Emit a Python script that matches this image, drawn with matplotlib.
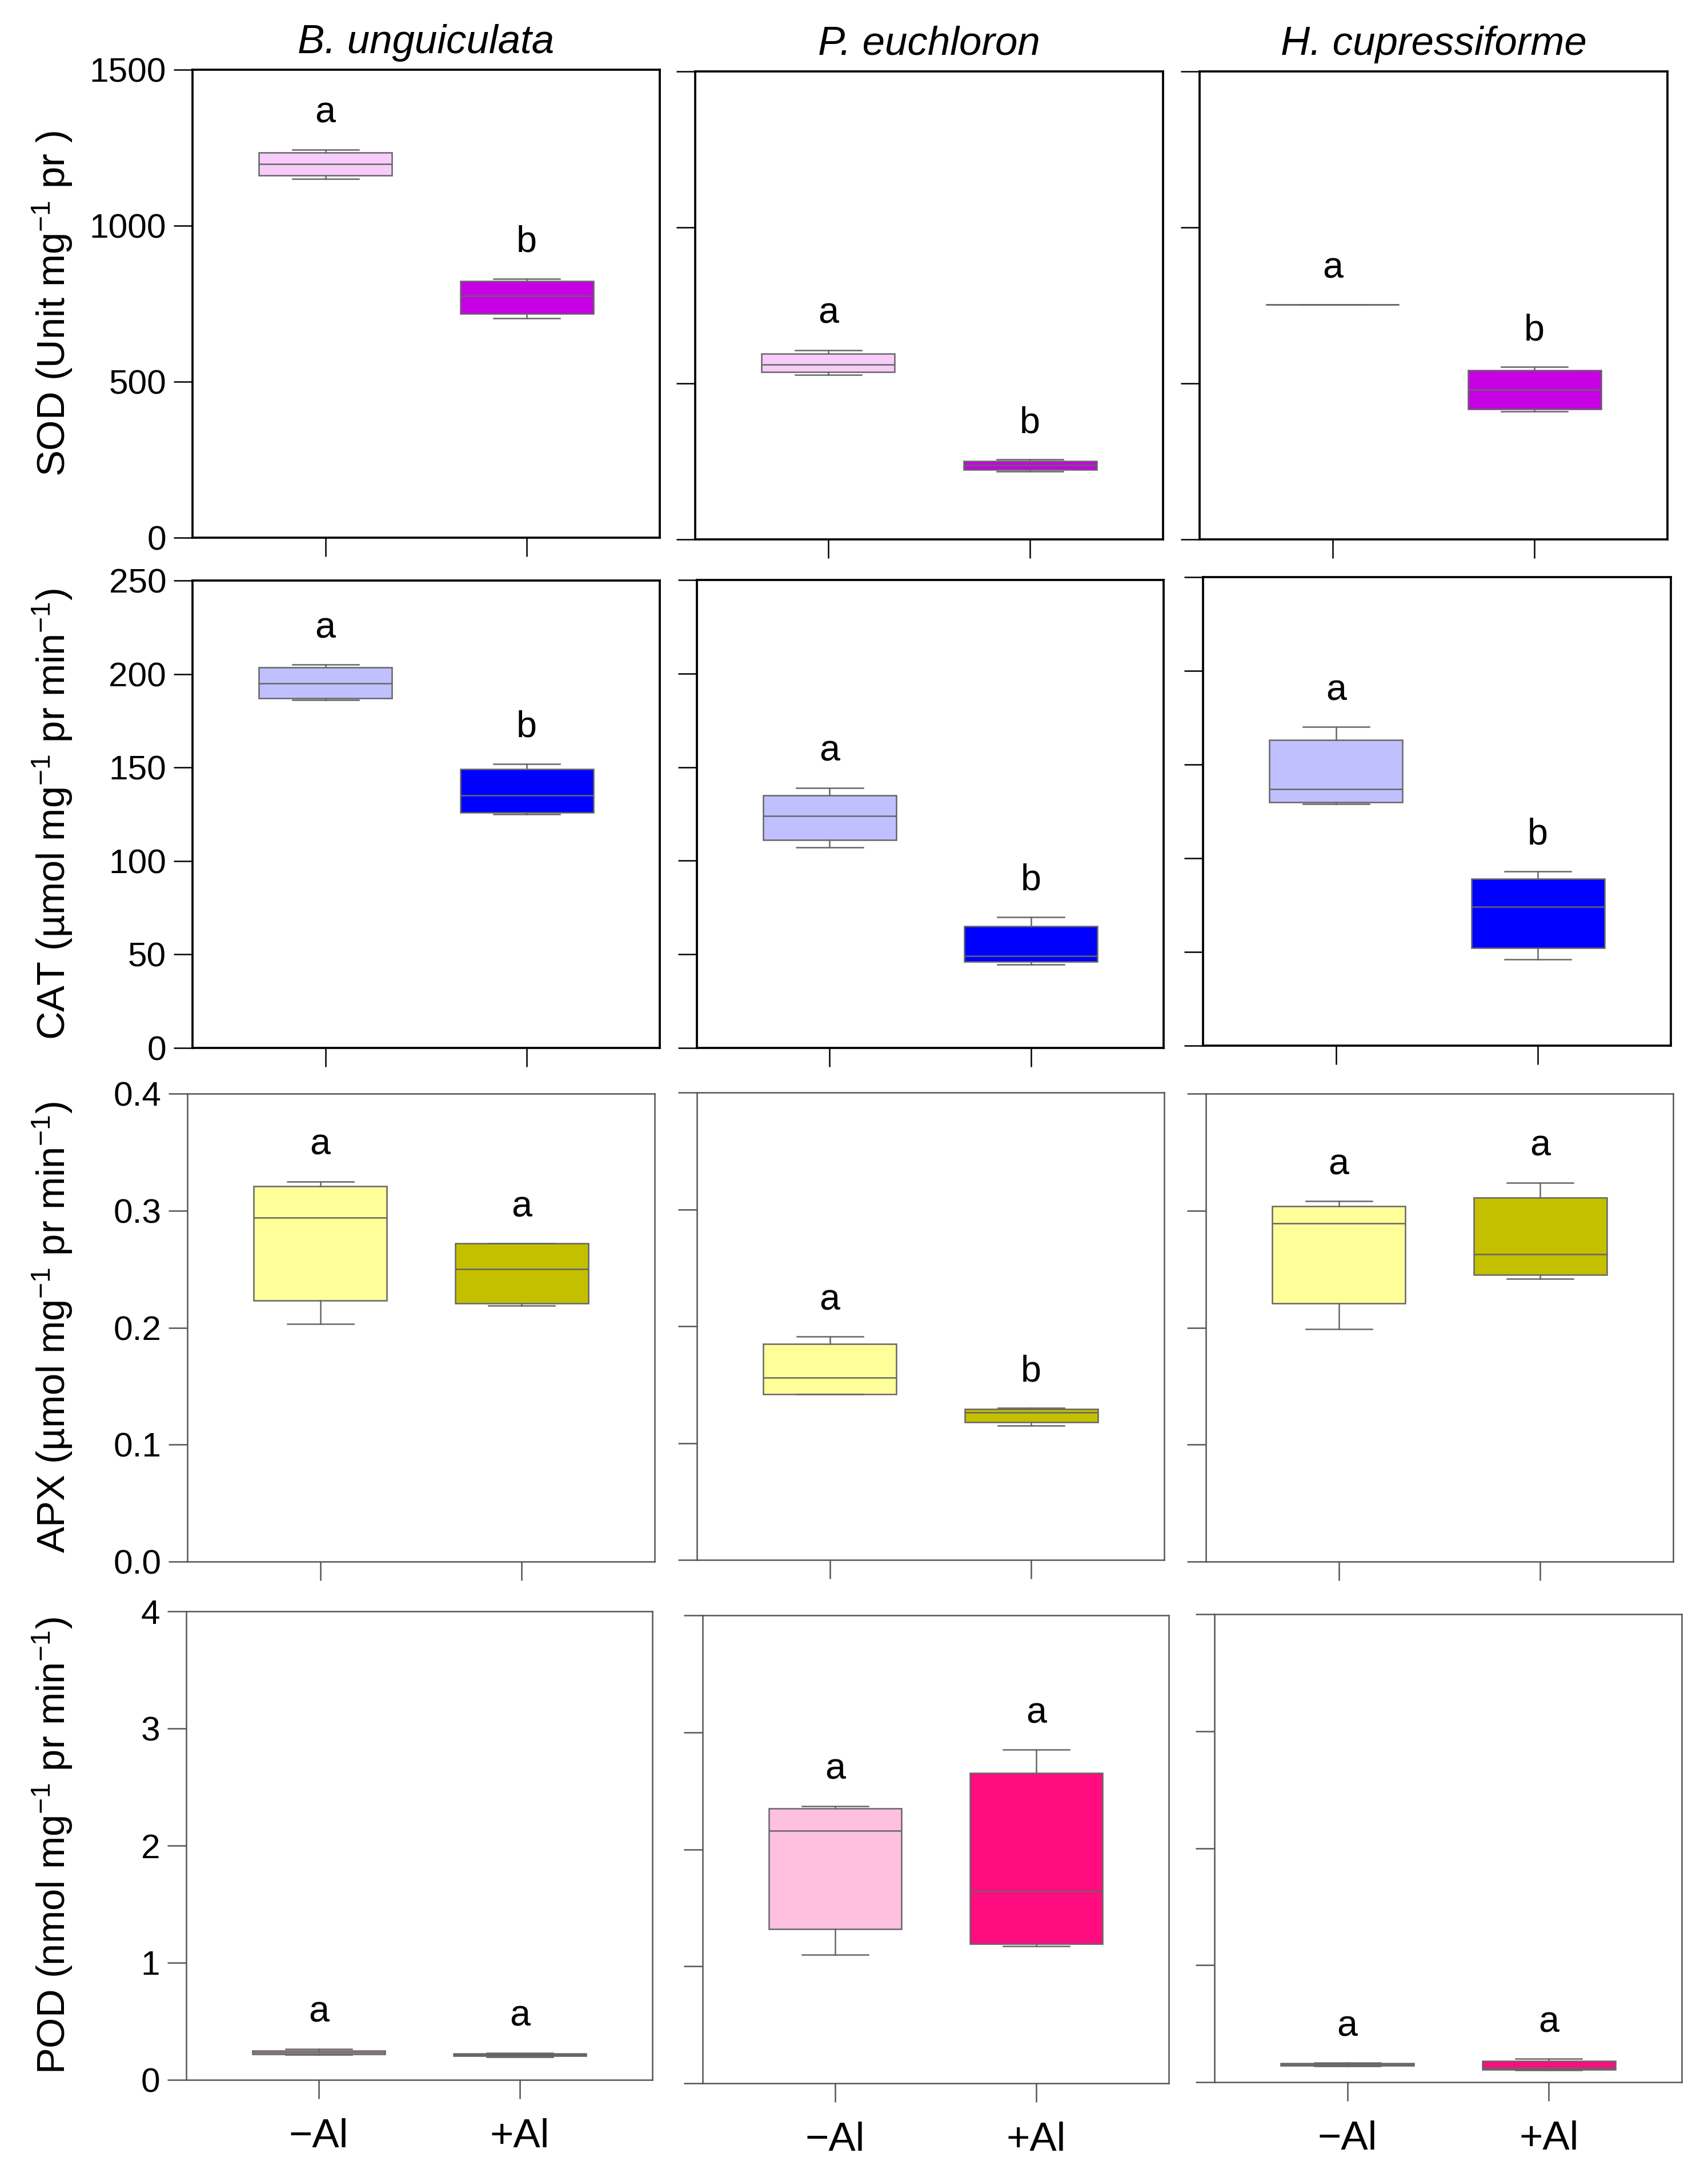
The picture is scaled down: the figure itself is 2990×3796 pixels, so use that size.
import numpy as np
import matplotlib.pyplot as plt

plt.rcParams['font.family'] = ['Liberation Sans', 'DejaVu Sans']
plt.rcParams['mathtext.fontset'] = 'custom'
plt.rcParams['mathtext.rm'] = 'Liberation Sans'
plt.rcParams['mathtext.it'] = 'Liberation Sans:italic'
plt.rcParams['mathtext.bf'] = 'Liberation Sans:bold'

# ---- data ----
species = ['B. unguiculata', 'P. euchloron', 'H. cupressiforme']
groups = ['\u2212Al', '+Al']
enzymes = ['SOD', 'CAT', 'APX', 'POD']
ylabels = ['SOD (Unit mg$^{-1}$ pr )',
           'CAT (\u00b5mol mg$^{-1}$ pr min$^{-1}$)',
           'APX (\u00b5mol mg$^{-1}$ pr min$^{-1}$)',
           'POD (nmol mg$^{-1}$ pr min$^{-1}$)']

# (low whisker, Q1, median, Q3, high whisker) per species, per group
sod_stats = [
    [(1151, 1161, 1198, 1234, 1244), (704, 718, 775, 822, 830)],
    [(527, 537, 560, 595, 607), (218, 224, 238, 250, 256)],
    [(752, 752, 752, 752, 752), (411, 417, 479, 542, 553)],
]
cat_stats = [
    [(186, 187, 195, 203.5, 205), (125, 126, 135, 149, 152)],
    [(107, 111, 124, 135, 139), (44.5, 46, 49, 65, 70)],
    [(129, 130, 137, 163, 170), (46, 52, 74, 89, 93)],
]
apx_stats = [
    [(0.203, 0.223, 0.294, 0.321, 0.325), (0.219, 0.221, 0.250, 0.272, 0.272)],
    [(0.142, 0.142, 0.156, 0.185, 0.191), (0.115, 0.118, 0.126, 0.129, 0.130)],
    [(0.199, 0.221, 0.289, 0.304, 0.308), (0.242, 0.245, 0.263, 0.311, 0.324)],
]
pod_stats = [
    [(0.215, 0.22, 0.235, 0.25, 0.265), (0.195, 0.205, 0.215, 0.225, 0.23)],
    [(1.10, 1.32, 2.16, 2.35, 2.37), (1.17, 1.19, 1.64, 2.65, 2.85)],
    [(0.135, 0.14, 0.15, 0.16, 0.165), (0.105, 0.108, 0.12, 0.183, 0.20)],
]
all_stats = [sod_stats, cat_stats, apx_stats, pod_stats]

sod_letters = [['a', 'b'], ['a', 'b'], ['a', 'b']]
cat_letters = [['a', 'b'], ['a', 'b'], ['a', 'b']]
apx_letters = [['a', 'a'], ['a', 'b'], ['a', 'a']]
pod_letters = [['a', 'a'], ['a', 'a'], ['a', 'a']]
all_letters = [sod_letters, cat_letters, apx_letters, pod_letters]

y_max = [1500, 250, 0.4, 4]
y_ticks = [[0, 500, 1000, 1500], [0, 50, 100, 150, 200, 250],
           [0.0, 0.1, 0.2, 0.3, 0.4], [0, 1, 2, 3, 4]]
y_ticklabels = [['0', '500', '1000', '1500'], ['0', '50', '100', '150', '200', '250'],
                ['0.0', '0.1', '0.2', '0.3', '0.4'], ['0', '1', '2', '3', '4']]

# fill colours (-Al, +Al) for each enzyme
fills = [['#F8CCF8', '#C800E4'],
         ['#C0C0FF', '#0000FF'],
         ['#FFFF99', '#C4C000'],
         ['#FFC0E0', '#FF0C80']]

# ---- layout (pixel boxes: left, right, top, bottom) ----
W, H = 2990, 3796
panels = [
    [(337, 1155, 122, 941), (1217, 2036, 125, 944), (2100, 2919, 125, 944)],
    [(337, 1155, 1016, 1834), (1220, 2037, 1015, 1834), (2106, 2925, 1010, 1830)],
    [(328, 1146, 1914, 2733), (1220, 2038, 1912, 2730), (2111, 2929, 1914, 2733)],
    [(326, 1142, 2820, 3640), (1230, 2046, 2827, 3646), (2126, 2944, 2825, 3644)],
]

fig = plt.figure(figsize=(W / 300, H / 300), dpi=300)
fs = 14
gray = '#666666'

for r in range(4):
    frame_col = 'black' if r < 2 else '#555555'
    frame_lw = 0.9 if r < 2 else 0.6
    for c in range(3):
        l, rt, t, b = panels[r][c]
        ax = fig.add_axes([l / W, 1 - b / H, (rt - l) / W, (b - t) / H])
        stats = []
        for g in range(2):
            lo, q1, med, q3, hi = all_stats[r][c][g]
            stats.append(dict(whislo=lo, q1=q1, med=med, q3=q3, whishi=hi, fliers=[]))
        bp = ax.bxp(stats, positions=[1, 2], widths=0.66, capwidths=0.33,
                    patch_artist=True, showfliers=False,
                    boxprops=dict(edgecolor=gray, linewidth=0.6),
                    medianprops=dict(color=gray, linewidth=0.6),
                    whiskerprops=dict(color=gray, linewidth=0.6),
                    capprops=dict(color=gray, linewidth=0.6))
        for g, patch in enumerate(bp['boxes']):
            patch.set_facecolor(fills[r][g])
        ax.set_xlim(0.34, 2.66)
        ax.set_ylim(0, y_max[r])
        ax.set_yticks(y_ticks[r])
        ax.set_xticks([1, 2])
        if c == 0:
            ax.set_yticklabels(y_ticklabels[r], fontsize=fs + 0.5)
        else:
            ax.set_yticklabels([])
        if r == 3:
            ax.set_xticklabels(groups, fontsize=17)
        else:
            ax.set_xticklabels([])
        ax.tick_params(direction='out', length=8, width=0.6, color=frame_col, pad=3)
        ax.tick_params(axis='x', pad=8)
        for sp in ax.spines.values():
            sp.set_color(frame_col)
            sp.set_linewidth(frame_lw)
        for g in range(2):
            hi = all_stats[r][c][g][4]
            ax.text(g + 1, hi + 0.078 * y_max[r], all_letters[r][c][g],
                    ha='center', va='center', fontsize=fs + 1.5)
        if r == 0:
            ax.set_title(species[c], fontsize=17, style='italic', pad=7)
    l, rt, t, b = panels[r][0]
    fig.text(92 / W, 1 - (t + b) / 2 / H, ylabels[r], rotation=90,
             ha='center', va='center', fontsize=16.5)

fig.savefig('out.png', dpi=300)
